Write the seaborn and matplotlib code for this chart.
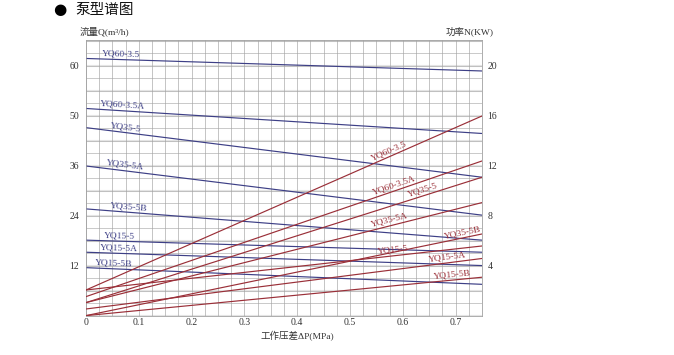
import numpy as np
import pandas as pd
import matplotlib
matplotlib.use("Agg")
import matplotlib.pyplot as plt
import seaborn as sns

# ---- data ----
models = ["YQ60-3.5", "YQ60-3.5A", "YQ35-5", "YQ35-5A", "YQ35-5B", "YQ15-5", "YQ15-5A", "YQ15-5B"]
pressure = [0.0, 0.75]  # MPa
flow_start = [61.8, 49.8, 45.2, 36.0, 25.7, 18.2, 15.3, 11.6]   # m3/h at 0 MPa
flow_end = [58.8, 43.8, 33.3, 24.2, 18.2, 15.3, 12.1, 7.6]      # m3/h at 0.75 MPa
power_start = [2.08, 1.55, 1.07, 1.07, 0.03, 2.08, 0.56, 0.03]  # kW at 0 MPa
power_end = [16.0, 12.4, 11.1, 9.07, 6.56, 5.6, 4.6, 3.1]       # kW at 0.75 MPa
flow_label_x = [0.066, 0.068, 0.075, 0.073, 0.080, 0.063, 0.063, 0.052]
power_label_x = [0.577, 0.586, 0.640, 0.577, 0.714, 0.583, 0.685, 0.695]
x_ticks = [0, 0.1, 0.2, 0.3, 0.4, 0.5, 0.6, 0.7]
x_tick_labels = ["0", "0.1", "0.2", "0.3", "0.4", "0.5", "0.6", "0.7"]
left_ticks = [12, 24, 36, 48, 60]
left_tick_labels = ["12", "24", "36", "50", "60"]
right_ticks = [4, 8, 12, 16, 20]

BLUE = "#3d3f86"
RED = "#9a2f38"
SERIF = ["Liberation Serif", "Noto Sans CJK SC"]

sns.set_style("white")
plt.rcParams["font.family"] = ["Liberation Serif", "Noto Sans CJK SC", "DejaVu Sans"]

flow_df = pd.DataFrame({
    "model": np.repeat(models, 2),
    "P": pressure * len(models),
    "Q": [v for s, e in zip(flow_start, flow_end) for v in (s, e)],
})
power_df = pd.DataFrame({
    "model": np.repeat(models, 2),
    "P": pressure * len(models),
    "N": [v for s, e in zip(power_start, power_end) for v in (s, e)],
})

fig = plt.figure(figsize=(6.74, 3.55), dpi=100)
ax = fig.add_axes([0.1276, 0.1099, 0.5875, 0.7775])
ax2 = ax.twinx()
ax2.set_position([0.1276, 0.1099, 0.5875, 0.7775])

XMAX = 0.75
YMAX_R = 22.08
ax.set_xlim(0, XMAX)
ax.set_ylim(0, YMAX_R * 3)
ax2.set_ylim(0, YMAX_R)

# grid (drawn in power-axis units, 1 kW spacing)
for i in range(0, 23):
    if i % 2 == 0:
        ax.axhline(i * 3, color="#e4e4e4", lw=1.5, zorder=0)
    ax.axhline(i * 3, color="#ababab", lw=0.45, zorder=0.5)
for xv in np.arange(0, XMAX + 1e-9, 0.025):
    ax.axvline(xv, color="#a3a3a3", lw=0.45, zorder=0.5)

sns.lineplot(data=flow_df, x="P", y="Q", hue="model", palette=[BLUE] * len(models),
             legend=False, ax=ax, lw=0.85, zorder=3)
sns.lineplot(data=power_df, x="P", y="N", hue="model", palette=[RED] * len(models),
             legend=False, ax=ax2, lw=0.85, zorder=3)

ax.set_xlim(0, XMAX)
ax.set_ylim(0, YMAX_R * 3)
ax2.set_ylim(0, YMAX_R)

for a in (ax, ax2):
    for s in a.spines.values():
        s.set_color("#a3a3a3")
        s.set_linewidth(0.45)
    a.set_xlabel("")
    a.set_ylabel("")

ax.set_xticks(x_ticks)
ax.set_xticklabels(x_tick_labels, fontsize=7, color="#333333")
ax.set_yticks(left_ticks)
ax.set_yticklabels(left_tick_labels, fontsize=7, color="#333333")
ax2.set_yticks(right_ticks)
ax2.set_yticklabels([str(t) for t in right_ticks], fontsize=7, color="#333333")
ax.tick_params(axis="x", length=0, pad=1.5)
ax.tick_params(axis="y", length=0, pad=5)
ax2.tick_params(length=0, pad=4)

def angle_of(a, x0, y0, x1, y1):
    p0 = a.transData.transform((x0, y0))
    p1 = a.transData.transform((x1, y1))
    return np.degrees(np.arctan2(p1[1] - p0[1], p1[0] - p0[0]))

for m, s, e, lx in zip(models, flow_start, flow_end, flow_label_x):
    y = s + (e - s) * lx / XMAX
    ang = angle_of(ax, 0, s, XMAX, e)
    ax.annotate(m, (lx, y), xytext=(0, 1.2), textcoords="offset points",
                ha="center", va="bottom", rotation=ang, rotation_mode="anchor",
                fontsize=6.8, color=BLUE, family=SERIF, zorder=4)

for m, s, e, lx in zip(models, power_start, power_end, power_label_x):
    y = s + (e - s) * lx / XMAX
    ang = angle_of(ax2, 0, s, XMAX, e)
    ax2.annotate(m, (lx, y), xytext=(0, 1.2), textcoords="offset points",
                 ha="center", va="bottom", rotation=ang, rotation_mode="anchor",
                 fontsize=6.8, color=RED, family=SERIF, zorder=4)

fig.text(104 / 674, 1 - 31 / 355, "流量Q(m³/h)", fontsize=6.8, color="#333333",
         ha="center", va="center", family=SERIF)
fig.text(470 / 674, 1 - 31 / 355, "功率N(KW)", fontsize=6.8, color="#333333",
         ha="center", va="center", family=SERIF)
fig.text(297 / 674, 1 - 336 / 355, "工作压差ΔP(MPa)", fontsize=6.8, color="#333333",
         ha="center", va="center", family=SERIF)

fig.text(60 / 674, 1 - 9 / 355, "●", fontsize=11, color="black", ha="center", va="center",
         family=["DejaVu Sans"])
fig.text(75 / 674, 1 - 10 / 355, "泵型谱图", fontsize=10.5, color="#111111", ha="left", va="center",
         family=["Noto Sans CJK SC", "DejaVu Sans"])

fig.savefig("out.png", dpi=100, facecolor="white")
